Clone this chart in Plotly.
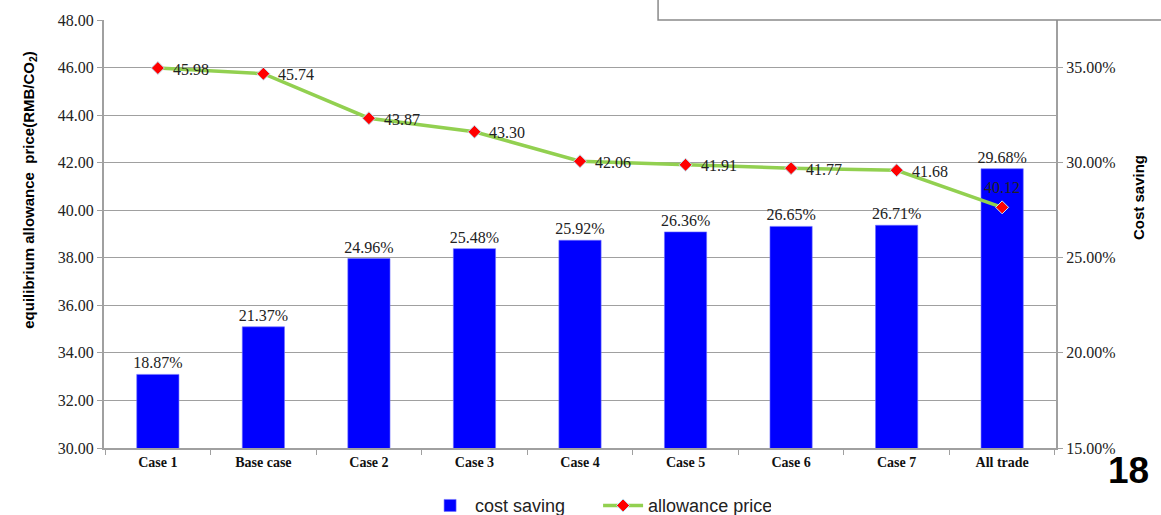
import plotly.graph_objects as go

# Scenario categories
cases = ["Case 1", "Base case", "Case 2", "Case 3", "Case 4", "Case 5", "Case 6", "Case 7", "All trade"]
# Cost saving (%) per scenario
cost_saving = [18.87, 21.37, 24.96, 25.48, 25.92, 26.36, 26.65, 26.71, 29.68]
# Equilibrium allowance price (RMB/CO2) per scenario
allowance_price = [45.98, 45.74, 43.87, 43.30, 42.06, 41.91, 41.77, 41.68, 40.12]

price_ticks = [30, 32, 34, 36, 38, 40, 42, 44, 46, 48]
saving_ticks = [15, 20, 25, 30, 35]

SERIF = "Liberation Serif"
SANS = "Liberation Sans"
AXIS_GRAY = "#a0a0a0"

fig = go.Figure()

fig.add_trace(go.Bar(
    x=cases, y=cost_saving, name="cost saving", yaxis="y",
    width=0.4,
    marker=dict(color="#0000ff", line=dict(color="#7070ff", width=0.6)),
    texttemplate="%{y:.2f}%", textposition="outside", cliponaxis=False,
    constraintext="none",
    textfont=dict(family=SERIF, size=16, color="#222"),
))

fig.add_trace(go.Scatter(
    x=cases, y=allowance_price, name="allowance price", yaxis="y2",
    mode="lines+markers",
    line=dict(color="#92d050", width=3.5),
    marker=dict(symbol="diamond", size=10, color="#ff0000",
                line=dict(color="#bfe6f5", width=1)),
    cliponaxis=False,
))

# Price labels: to the right of each point, above the last one
price_labels = []
for i, (c, v) in enumerate(zip(cases, allowance_price)):
    last = i == len(cases) - 1
    price_labels.append(dict(
        x=c, y=v, xref="x", yref="y2", text=f"{v:.2f}", showarrow=False,
        xanchor="center" if last else "left", yanchor="middle",
        xshift=0 if last else 13, yshift=20 if last else -1,
        font=dict(family=SERIF, size=16, color="#222"),
    ))

fig.update_layout(
    width=1161, height=515,
    margin=dict(l=104, r=105, t=20, b=67),
    plot_bgcolor="white", paper_bgcolor="white",
    showlegend=True,
    legend=dict(orientation="h", x=0.519, xanchor="center",
                yref="container", y=0.018, yanchor="middle",
                font=dict(family=SANS, size=18, color="#222"),
                itemwidth=40, traceorder="normal", entrywidth=118,
                tracegroupgap=0),
    xaxis=dict(
        showline=True, linecolor=AXIS_GRAY, linewidth=2,
        ticks="outside", tickson="boundaries", ticklen=5, tickcolor=AXIS_GRAY,
        tickfont=dict(family=SERIF, size=14, color="#111", weight="bold"),
        showgrid=False,
    ),
    # cost saving axis (drawn on the right)
    yaxis=dict(
        side="right", range=[15, 37.5], tickvals=saving_ticks,
        ticktext=[f"{t:.2f}%" for t in saving_ticks],
        showgrid=False, zeroline=False,
        showline=True, linecolor=AXIS_GRAY, linewidth=2,
        ticks="outside", ticklen=5, tickcolor=AXIS_GRAY,
        tickfont=dict(family=SERIF, size=16, color="#222"),
    ),
    # allowance price axis (drawn on the left)
    yaxis2=dict(
        overlaying="y", side="left", range=[30, 48], tickvals=price_ticks,
        tickformat=".2f",
        showgrid=True, gridcolor=AXIS_GRAY, gridwidth=1.3, zeroline=False,
        showline=True, linecolor=AXIS_GRAY, linewidth=2,
        ticks="outside", ticklen=5, tickcolor=AXIS_GRAY,
        tickfont=dict(family=SERIF, size=16, color="#222"),
    ),
    annotations=price_labels + [
        dict(text="equilibrium allowance  price(RMB/CO<sub>2</sub>)",
             xref="paper", yref="paper", x=-0.09, y=0.603,
             textangle=-90, showarrow=False,
             font=dict(family=SANS, size=15, color="#000", weight="bold")),
        dict(text="Cost saving", xref="paper", yref="paper", x=1.097, y=0.586,
             textangle=-90, showarrow=False,
             font=dict(family=SANS, size=15, color="#000", weight="bold")),
        dict(text="18", xref="paper", yref="paper", x=1.0987, xanchor="right",
             y=-0.103, showarrow=False, borderpad=0,
             font=dict(family=SANS, size=37, color="#000", weight="bold")),
    ],
    shapes=[
        dict(type="rect", xref="paper", yref="paper",
             x0=0.582, x1=1.2, y0=1.0, y1=1.2,
             line=dict(color="#8a8a8a", width=1.5), fillcolor="white",
             layer="above"),
    ],
)

fig.write_html("out.html")
